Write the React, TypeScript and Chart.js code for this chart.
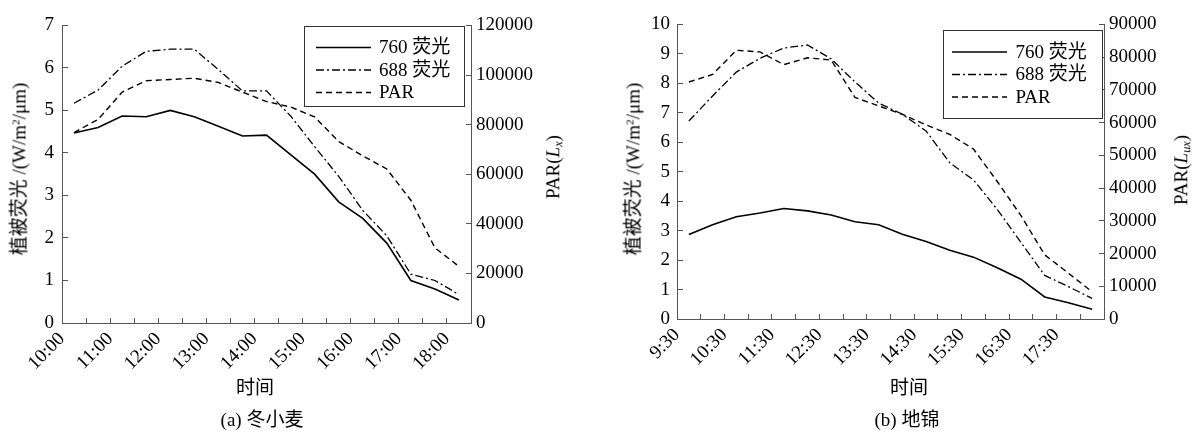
import React, { useEffect, useRef } from 'react';
import { Chart, registerables } from 'chart.js';

Chart.register(...registerables);

// ---------- (a) 冬小麦 ----------
const timesA = ['10:15', '10:45', '11:15', '11:45', '12:15', '12:45', '13:15', '13:45', '14:15', '14:45', '15:15', '15:45', '16:15', '16:45', '17:15', '17:45', '18:15'];
const fl760A = [4.47, 4.6, 4.87, 4.85, 5.0, 4.85, 4.63, 4.4, 4.42, 3.96, 3.5, 2.85, 2.46, 1.88, 1.0, 0.8, 0.54];
const fl688A = [5.17, 5.48, 6.04, 6.39, 6.44, 6.44, 5.96, 5.46, 5.46, 4.87, 4.15, 3.45, 2.65, 2.05, 1.15, 1.0, 0.67];
const parA = [76800, 82100, 93100, 97700, 98200, 98700, 97000, 93100, 89300, 87100, 83100, 73200, 67400, 62100, 49500, 30300, 22800];
const xTickLabelsA = ['10:00', '11:00', '12:00', '13:00', '14:00', '15:00', '16:00', '17:00', '18:00'];
const axisStartA = '10:00';
const axisEndA = '18:30';

// ---------- (b) 地锦 ----------
const timesB = ['9:45', '10:15', '10:45', '11:15', '11:45', '12:15', '12:45', '13:15', '13:45', '14:15', '14:45', '15:15', '15:45', '16:15', '16:45', '17:15', '17:45', '18:15'];
const fl760B = [2.87, 3.2, 3.47, 3.6, 3.75, 3.67, 3.53, 3.3, 3.2, 2.88, 2.63, 2.33, 2.1, 1.74, 1.35, 0.75, 0.55, 0.33];
const fl688B = [6.72, 7.57, 8.38, 8.85, 9.2, 9.3, 8.83, 8.05, 7.33, 6.95, 6.38, 5.3, 4.72, 3.72, 2.6, 1.48, 1.1, 0.7];
const parB = [72400, 74700, 82100, 81600, 77700, 79800, 79100, 67700, 65100, 62500, 59300, 56400, 51900, 42000, 31600, 19600, 14000, 8300];
const xTickLabelsB = ['9:30', '10:30', '11:30', '12:30', '13:30', '14:30', '15:30', '16:30', '17:30'];
const axisStartB = '9:30';
const axisEndB = '18:30';

const seriesNames = ['760 荧光', '688 荧光', 'PAR'];

const FONT_FAMILY = '"Liberation Serif", "Noto Sans CJK SC", serif';
const AXIS_COLOR = '#555';

const toMin = (t: string) => {
  const [h, m] = t.split(':').map(Number);
  return h * 60 + m;
};

const boxLegend = {
  id: 'boxLegend',
  afterDraw(chart: any, _args: any, opts: any) {
    const { ctx, chartArea } = chart;
    const x0 = Math.round(chartArea.right - opts.offsetRight - opts.width) + 0.5;
    const y0 = Math.round(chartArea.top + opts.offsetTop) + 0.5;
    ctx.save();
    ctx.fillStyle = '#fff';
    ctx.fillRect(x0, y0, opts.width, opts.height);
    ctx.strokeStyle = '#333';
    ctx.lineWidth = 1;
    ctx.setLineDash([]);
    ctx.strokeRect(x0, y0, opts.width, opts.height);
    chart.data.datasets.forEach((ds: any, i: number) => {
      const y = y0 + opts.firstRow + i * opts.rowGap;
      ctx.setLineDash(ds.borderDash || []);
      ctx.strokeStyle = ds.borderColor;
      ctx.lineWidth = ds.borderWidth;
      ctx.beginPath();
      ctx.moveTo(x0 + opts.lineStart, y);
      ctx.lineTo(x0 + opts.lineStart + opts.lineLen, y);
      ctx.stroke();
      ctx.setLineDash([]);
      ctx.fillStyle = '#000';
      ctx.font = `19px ${FONT_FAMILY}`;
      ctx.textBaseline = 'middle';
      ctx.textAlign = 'left';
      ctx.fillText(ds.label, x0 + opts.textStart, y + 1);
    });
    ctx.restore();
  },
};

function buildConfig(p: any) {
  const start = toMin(p.axisStart);
  const end = toMin(p.axisEnd);
  const idx = (t: string) => (toMin(t) - start) / 30;
  const pts = (vals: number[]) => p.times.map((t: string, i: number) => ({ x: idx(t), y: vals[i] }));
  const font = { family: FONT_FAMILY, size: 19 };
  return {
    type: 'line',
    data: {
      datasets: [
        { label: seriesNames[0], data: pts(p.fl760), yAxisID: 'y', borderColor: '#000', borderWidth: 1.6, borderDash: [], pointRadius: 0, tension: 0, fill: false },
        { label: seriesNames[1], data: pts(p.fl688), yAxisID: 'y', borderColor: '#000', borderWidth: 1.3, borderDash: [8, 3, 2, 3], pointRadius: 0, tension: 0, fill: false },
        { label: seriesNames[2], data: pts(p.par), yAxisID: 'y1', borderColor: '#000', borderWidth: 1.4, borderDash: [6, 4], pointRadius: 0, tension: 0, fill: false },
      ],
    },
    options: {
      responsive: false,
      maintainAspectRatio: false,
      animation: false,
      devicePixelRatio: 1,
      layout: { padding: { top: p.padTop, left: 0, right: 0, bottom: 0 } },
      plugins: {
        legend: { display: false },
        tooltip: { enabled: false },
        boxLegend: p.legend,
      },
      scales: {
        x: {
          type: 'linear',
          min: 0,
          max: (end - start) / 30,
          afterFit: (s: any) => { s.height = p.xHeight; },
          ticks: {
            stepSize: 1,
            autoSkip: false,
            minRotation: 45,
            maxRotation: 45,
            padding: 10,
            color: '#000',
            font,
            callback: (v: number) => p.tickLabels.find((l: string) => idx(l) === v) ?? '',
          },
          grid: { drawOnChartArea: false, drawTicks: true, tickLength: -5, color: AXIS_COLOR, lineWidth: 1 },
          border: { display: true, color: AXIS_COLOR, width: 1 },
        },
        y: {
          position: 'left',
          min: 0,
          max: p.yMax,
          afterFit: (s: any) => { s.width = p.yWidth; },
          ticks: { stepSize: p.yStep, padding: p.yPad, color: '#000', font, callback: (v: number) => String(v) },
          grid: { drawOnChartArea: false, drawTicks: true, tickLength: -6, color: AXIS_COLOR, lineWidth: 1 },
          border: { display: true, color: AXIS_COLOR, width: 1 },
        },
        y1: {
          position: 'right',
          min: 0,
          max: p.y1Max,
          afterFit: (s: any) => { s.width = p.y1Width; },
          ticks: { stepSize: p.y1Step, padding: 10, color: '#000', font, callback: (v: number) => String(v) },
          grid: { drawOnChartArea: false, drawTicks: true, tickLength: -5, color: AXIS_COLOR, lineWidth: 1 },
          border: { display: true, color: AXIS_COLOR, width: 1 },
        },
      },
    },
    plugins: [boxLegend],
  };
}

const configA = () =>
  buildConfig({
    times: timesA, fl760: fl760A, fl688: fl688A, par: parA, tickLabels: xTickLabelsA,
    axisStart: axisStartA, axisEnd: axisEndA,
    yMax: 7, yStep: 1, y1Max: 120000, y1Step: 20000,
    padTop: 20, xHeight: 109, yWidth: 62, y1Width: 129, yPad: 14,
    legend: { width: 160, height: 80, offsetRight: 7.5, offsetTop: 1, firstRow: 21, rowGap: 22.5, lineStart: 11.5, lineLen: 55, textStart: 74.5 },
  });

const configB = () =>
  buildConfig({
    times: timesB, fl760: fl760B, fl688: fl688B, par: parB, tickLabels: xTickLabelsB,
    axisStart: axisStartB, axisEnd: axisEndB,
    yMax: 10, yStep: 1, y1Max: 90000, y1Step: 10000,
    padTop: 15, xHeight: 113, yWidth: 77, y1Width: 100, yPad: 13,
    legend: { width: 159, height: 88, offsetRight: 2, offsetTop: 6, firstRow: 21.5, rowGap: 22.5, lineStart: 8.5, lineLen: 55, textStart: 72 },
  });

function ChartCanvas({ makeConfig, left, width, height }: any) {
  const ref = useRef<HTMLCanvasElement | null>(null);
  useEffect(() => {
    const chart = new Chart(ref.current as HTMLCanvasElement, makeConfig() as any);
    return () => chart.destroy();
  }, []);
  return (
    <canvas
      ref={ref}
      width={width}
      height={height}
      style={{ position: 'absolute', left, top: 0, width, height, display: 'block' }}
    />
  );
}

function Label({ x, y, rotate, children }: any) {
  return (
    <div
      style={{
        position: 'absolute',
        left: x,
        top: y,
        transform: `translate(-50%, -50%)${rotate ? ' rotate(-90deg)' : ''}`,
        whiteSpace: 'nowrap',
        fontFamily: FONT_FAMILY,
        fontSize: 19,
        lineHeight: 1,
        color: '#000',
      }}
    >
      {children}
    </div>
  );
}

const supStyle = { fontSize: '0.6em', verticalAlign: '0.55em' } as const;
const subStyle = { fontSize: '0.65em', verticalAlign: '-0.25em', fontStyle: 'italic' } as const;

export default function App() {
  return (
    <div style={{ position: 'absolute', left: 0, top: 0, width: 1204, height: 432, background: '#fff', overflow: 'hidden' }}>
      <ChartCanvas makeConfig={configA} left={0} width={600} height={432} />
      <ChartCanvas makeConfig={configB} left={600} width={604} height={432} />

      <Label x={18.5} y={169} rotate>
        植被荧光 /(W/m<span style={supStyle}>2</span>/μm)
      </Label>
      <Label x={554} y={167} rotate>
        PAR(<i>L</i><span style={subStyle}>x</span>)
      </Label>
      <Label x={255} y={386.5}>时间</Label>
      <Label x={262} y={419}>(a) 冬小麦</Label>

      <Label x={633} y={169} rotate>
        植被荧光 /(W/m<span style={supStyle}>2</span>/μm)
      </Label>
      <Label x={1182} y={170} rotate>
        PAR(<i>L</i><span style={subStyle}>ux</span>)
      </Label>
      <Label x={909} y={386.5}>时间</Label>
      <Label x={907} y={419}>(b) 地锦</Label>
    </div>
  );
}
